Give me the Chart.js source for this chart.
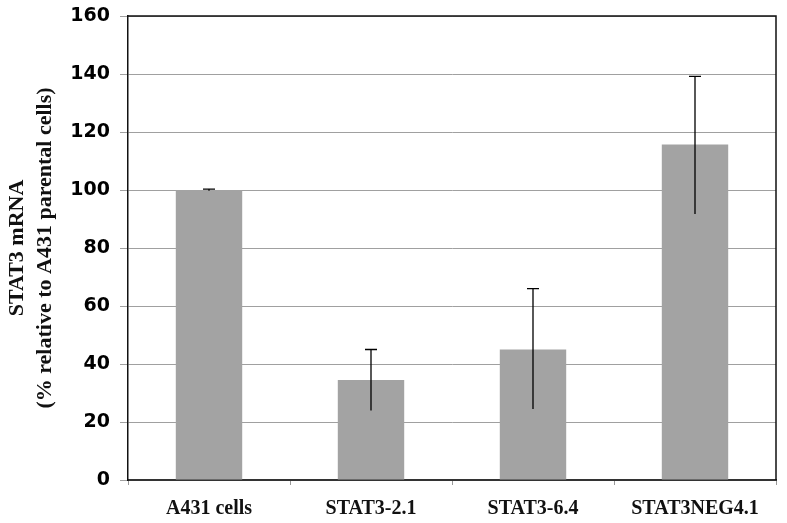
<!DOCTYPE html>
<html>
<head>
<meta charset="utf-8">
<script src="https://cdn.jsdelivr.net/npm/chart.js@4"></script>
<style>
  html, body { margin: 0; padding: 0; background: #fff; }
  #wrap { width: 787px; height: 523px; }
</style>
</head>
<body>
<div id="wrap"><canvas id="myChart"></canvas></div>
<script>
var categories = ['A431 cells', 'STAT3-2.1', 'STAT3-6.4', 'STAT3NEG4.1'];
var mrnaValues = [100, 34.5, 45, 115.7];
var errUp = [0.3, 10.5, 21, 23.5];
var errDown = [0.3, 10.5, 20.5, 24];
var yTitle = ['STAT3 mRNA', '(% relative to A431 parental cells)'];

// error bars drawn from the data through the scales
const errorBars = {
    id: 'errorBars',
    afterDatasetsDraw(chart) {
        const ctx = chart.ctx;
        const meta = chart.getDatasetMeta(0);
        const y = chart.scales.y;
        ctx.save();
        ctx.strokeStyle = '#000';
        ctx.lineWidth = 1.3;
        meta.data.forEach((bar, i) => {
            const v = mrnaValues[i];
            const top = y.getPixelForValue(v + errUp[i]);
            const bot = y.getPixelForValue(v - errDown[i]);
            ctx.beginPath();
            ctx.moveTo(bar.x, bot);
            ctx.lineTo(bar.x, top);
            ctx.moveTo(bar.x - 6, top);
            ctx.lineTo(bar.x + 6, top);
            ctx.stroke();
        });
        ctx.restore();
    }
};

// top and right border of the plot area
const frame = {
    id: 'frame',
    afterDraw(chart) {
        const a = chart.chartArea;
        const ctx = chart.ctx;
        ctx.save();
        ctx.strokeStyle = '#111';
        ctx.lineWidth = 1.5;
        ctx.beginPath();
        ctx.moveTo(a.left, a.top);
        ctx.lineTo(a.right, a.top);
        ctx.lineTo(a.right, a.bottom);
        ctx.stroke();
        ctx.restore();
    }
};

const ctx = document.getElementById('myChart');

var c = new Chart(ctx, {
    type: 'bar',
    data: {
        labels: categories,
        datasets: [{
            label: 'STAT3 mRNA',
            data: mrnaValues,
            backgroundColor: '#a3a3a3',
            borderWidth: 0,
            barPercentage: 0.41,
            categoryPercentage: 1
        }]
    },
    options: {
        responsive: true,
        maintainAspectRatio: false,
        animation: false,
        layout: {
            padding: { left: 0, right: 11, top: 16, bottom: 0 }
        },
        plugins: {
            legend: { display: false },
            tooltip: { enabled: false }
        },
        scales: {
            x: {
                afterFit: (s) => { s.height = 43; s.paddingLeft = 0; s.paddingRight = 0; },
                grid: {
                    drawOnChartArea: false,
                    drawTicks: true,
                    tickLength: 5,
                    color: '#999',
                    offset: true
                },
                border: { color: '#333', width: 2 },
                ticks: {
                    color: '#111',
                    padding: 12,
                    font: { family: 'Liberation Serif', weight: 'bold', size: 20 }
                }
            },
            y: {
                min: 0,
                max: 160,
                afterFit: (s) => { s.width = 128; s.paddingTop = 0; s.paddingBottom = 0; },
                grid: {
                    color: '#a0a0a0',
                    lineWidth: 1,
                    tickLength: 8
                },
                border: { color: '#111', width: 1.5 },
                ticks: {
                    stepSize: 20,
                    color: '#000',
                    padding: 10,
                    font: { family: 'DejaVu Sans', weight: 'bold', size: 19 }
                },
                title: {
                    display: true,
                    text: yTitle,
                    color: '#111',
                    padding: { top: 3, bottom: 0 },
                    font: { family: 'Liberation Serif', weight: 'bold', size: 22, lineHeight: 1.27 }
                }
            }
        }
    },
    plugins: [errorBars, frame]
});
</script>
</body>
</html>
